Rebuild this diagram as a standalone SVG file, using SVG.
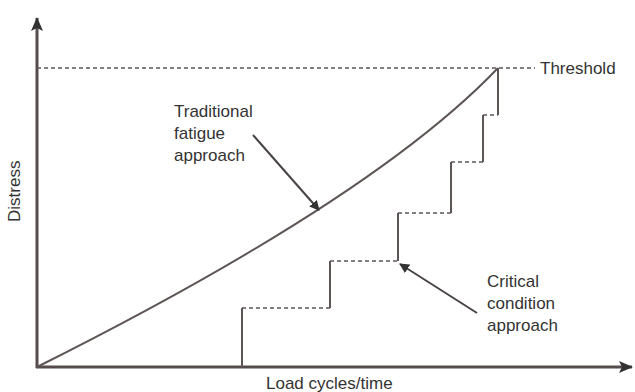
<svg xmlns="http://www.w3.org/2000/svg" width="635" height="392" viewBox="0 0 635 392">
<style>
.t{font-family:"Liberation Sans",Arial,sans-serif;font-size:17px;fill:#333}
.ax{stroke:#554c4c;stroke-width:3;fill:none}
.sol{stroke:#5e5555;stroke-width:2;fill:none}
.dash{stroke:#5e5555;stroke-width:1.5;fill:none;stroke-dasharray:4 3}
.ptr{stroke:#4a4444;stroke-width:2;fill:none}
</style>
<defs>
<marker id="ah" markerWidth="10" markerHeight="10" refX="9" refY="5" orient="auto" markerUnits="userSpaceOnUse" viewBox="0 0 10 10">
<path d="M0,0 L10,5 L0,10 Z" fill="#333"/>
</marker>
<marker id="axh" markerWidth="14" markerHeight="12" refX="13" refY="6" orient="auto" markerUnits="userSpaceOnUse" viewBox="0 0 14 12">
<path d="M0,0 L14,6 L0,12 L3,6 Z" fill="#333"/>
</marker>
</defs>
<rect width="635" height="392" fill="#fff"/>
<g id="axes">
<line class="ax" x1="37" y1="368" x2="37" y2="18" marker-end="url(#axh)"/>
<line class="ax" x1="36" y1="367" x2="632" y2="367" marker-end="url(#axh)"/>
</g>
<g id="threshold">
<line class="dash" x1="37" y1="68" x2="535" y2="68"/>
<text class="t" x="540" y="74">Threshold</text>
</g>
<g id="connectors">
<path class="sol" d="M37,367 Q373,199 498,68"/>
<path class="sol" d="M242,367 V308 M330,308 V261 M398,261 V213 M451,213 V162 M483,162 V115 M498,115 V68"/>
<path class="dash" d="M242,308 H330 M330,261 H398 M398,213 H451 M451,162 H483 M483,115 H498"/>
<line class="ptr" x1="253" y1="135" x2="319" y2="210" marker-end="url(#ah)"/>
<line class="ptr" x1="477" y1="313" x2="400" y2="264" marker-end="url(#ah)"/>
</g>
<g id="traditional">
<text class="t" x="174" y="117">Traditional</text>
<text class="t" x="174" y="139">fatigue</text>
<text class="t" x="174" y="161">approach</text>
</g>
<g id="critical">
<text class="t" x="487" y="287">Critical</text>
<text class="t" x="487" y="309">condition</text>
<text class="t" x="487" y="331">approach</text>
</g>
<g id="labels">
<text class="t" x="266" y="389">Load cycles/time</text>
<text class="t" transform="translate(20,222) rotate(-90)">Distress</text>
</g>
</svg>
